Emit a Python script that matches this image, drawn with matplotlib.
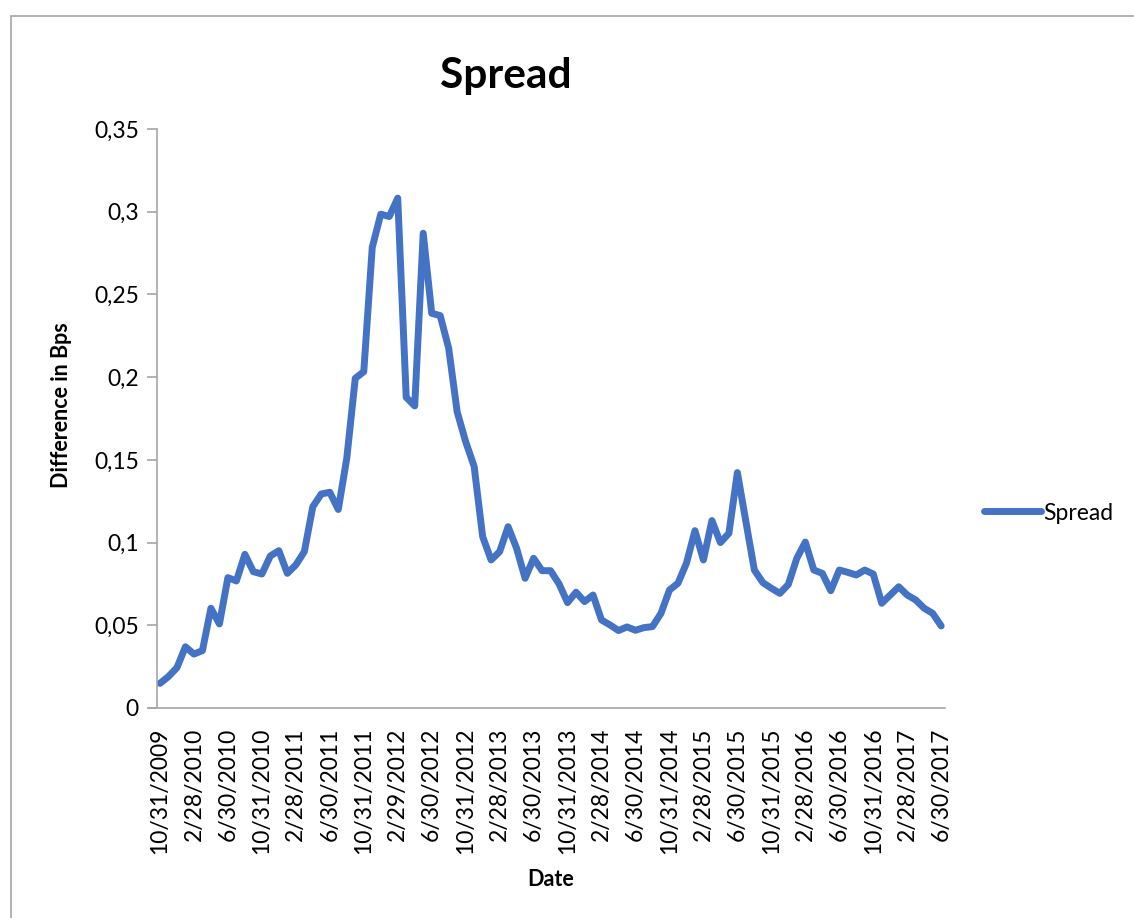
import matplotlib
matplotlib.use("Agg")
import matplotlib.pyplot as plt
from matplotlib.patches import Rectangle
import numpy as np

# Monthly spread, Oct 2009 - Jun 2017 (93 observations)
spread = [0.0149, 0.019, 0.0244, 0.037, 0.0326, 0.0347, 0.0603, 0.0508, 0.0788, 0.0768,
          0.0929, 0.0824, 0.081, 0.0919, 0.0951, 0.0814, 0.0865, 0.0945, 0.1217, 0.1294,
          0.1304, 0.120, 0.151, 0.1993, 0.2033, 0.2785, 0.2985, 0.2971, 0.3082, 0.1878,
          0.1826, 0.287, 0.2386, 0.2372, 0.2175, 0.179, 0.161, 0.146, 0.1036, 0.0895,
          0.0945, 0.1096, 0.0965, 0.0784, 0.0905, 0.083, 0.083, 0.075, 0.0637, 0.070,
          0.0643, 0.0683, 0.0532, 0.0502, 0.0468, 0.049, 0.047, 0.0486, 0.0492, 0.0572,
          0.0713, 0.0754, 0.0875, 0.1072, 0.0895, 0.1133, 0.100, 0.1056, 0.1423, 0.1127,
          0.0834, 0.0758, 0.0724, 0.0693, 0.0747, 0.0905, 0.1003, 0.0834, 0.0814, 0.0709,
          0.0834, 0.082, 0.0804, 0.0834, 0.081, 0.0633, 0.0683, 0.0733, 0.0683, 0.0653,
          0.0603, 0.0572, 0.0496]
# every fourth observation is labelled
date_labels = ["10/31/2009", "2/28/2010", "6/30/2010", "10/31/2010", "2/28/2011",
               "6/30/2011", "10/31/2011", "2/29/2012", "6/30/2012", "10/31/2012",
               "2/28/2013", "6/30/2013", "10/31/2013", "2/28/2014", "6/30/2014",
               "10/31/2014", "2/28/2015", "6/30/2015", "10/31/2015", "2/28/2016",
               "6/30/2016", "10/31/2016", "2/28/2017", "6/30/2017"]
yticks = [0, 0.05, 0.1, 0.15, 0.2, 0.25, 0.3, 0.35]
ytick_labels = ["0", "0,05", "0,1", "0,15", "0,2", "0,25", "0,3", "0,35"]

W, H = 1134, 918
fig = plt.figure(figsize=(W / 100, H / 100), dpi=100)
plt.rcParams["font.family"] = ["Lato", "DejaVu Sans"]

# chart area border
fig.patches.append(Rectangle((11 / W, -0.2), 1.2, 1.2 - 16 / H, transform=fig.transFigure,
                             fill=False, edgecolor="#a6a6a6", linewidth=1.2))

ax = fig.add_axes([157 / W, 1 - 708 / H, (945 - 157) / W, (708 - 129) / H])
x = np.arange(len(spread))
ax.plot(x, spread, color="#4472C4", linewidth=5, solid_joinstyle="round",
        solid_capstyle="round", label="Spread")

ax.set_ylim(0, 0.35)
ax.set_xlim(-0.35, 92.45)
ax.set_yticks(yticks)
ax.set_yticklabels(ytick_labels, fontsize=16.5)
ax.set_xticks(x[::4])
ax.set_xticklabels(date_labels, rotation=90, fontsize=16.5)
ax.tick_params(axis="y", length=7, width=1.2, color="#a6a6a6", pad=6)
ax.tick_params(axis="x", length=0, pad=14)

for side in ["top", "right"]:
    ax.spines[side].set_visible(False)
for side in ["left", "bottom"]:
    ax.spines[side].set_color("#a6a6a6")
    ax.spines[side].set_linewidth(1.2)
ax.spines["bottom"].set_bounds(-0.35 - 1.0, 92.45)

fig.text(506 / W, 1 - 76 / H, "Spread", fontsize=30.5, fontweight="bold",
         ha="center", va="center")
fig.text(62 / W, 1 - 405 / H, "Difference in Bps", fontsize=15.5, fontweight="bold",
         rotation=90, ha="center", va="center")
fig.text(551 / W, 1 - 880 / H, "Date", fontsize=15.5, fontweight="bold",
         ha="center", va="center")

ax.legend(loc="center left", bbox_to_anchor=(963 / W, 1 - 513 / H),
          bbox_transform=fig.transFigure, frameon=False, fontsize=16.5,
          handlelength=2.5, handletextpad=0.1)

fig.savefig("out.png", dpi=100)
